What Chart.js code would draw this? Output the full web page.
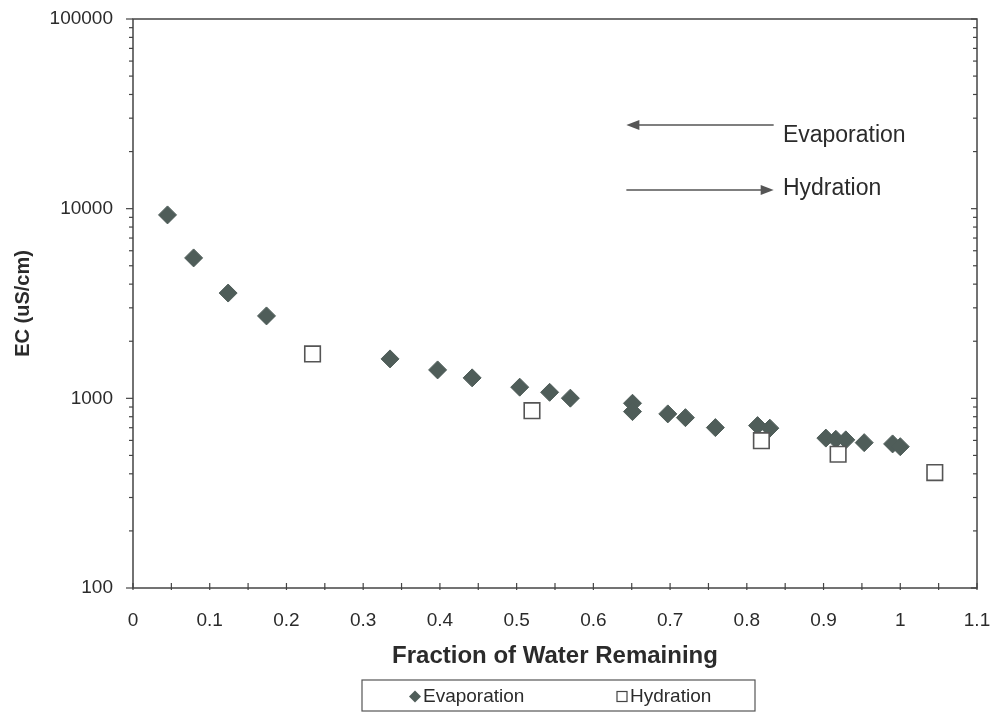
<!DOCTYPE html>
<html>
<head>
<meta charset="utf-8">
<title>EC vs Fraction of Water Remaining</title>
<script src="https://cdn.jsdelivr.net/npm/chart.js@4.4.1/dist/chart.umd.min.js"></script>
<style>
  html, body { margin: 0; padding: 0; background: #fff; }
  #wrap { width: 993px; height: 712px; }
</style>
</head>
<body>
<div id="wrap"><canvas id="ecChart" width="993" height="712"></canvas></div>
<script>
'use strict';

// evaporation series: fraction of water remaining vs EC (uS/cm)
const evapX  = [0.045, 0.079, 0.124, 0.174, 0.335, 0.397, 0.442, 0.504, 0.543, 0.570, 0.651, 0.651,
                0.697, 0.720, 0.759, 0.814, 0.830, 0.903, 0.916, 0.929, 0.953, 0.990, 1.000];
const evapEC = [9270, 5500, 3590, 2720, 1614, 1412, 1282, 1145, 1076, 1002, 942, 851,
                828, 791, 701, 718, 696, 617, 608, 604, 584, 575, 556];

// hydration series
const hydX  = [0.234, 0.520, 0.819, 0.919, 1.045];
const hydEC = [1714, 861, 598, 507, 406];

// axis ticks
const xTickValues = [0, 0.05, 0.1, 0.15, 0.2, 0.25, 0.3, 0.35, 0.4, 0.45, 0.5, 0.55,
                     0.6, 0.65, 0.7, 0.75, 0.8, 0.85, 0.9, 0.95, 1, 1.05, 1.1];
const xTickLabels = ['0', '0.1', '0.2', '0.3', '0.4', '0.5', '0.6', '0.7', '0.8', '0.9', '1', '1.1'];
const yTickLabels = ['100', '1000', '10000', '100000'];

const seriesNames = ['Evaporation', 'Hydration'];

// direction arrows drawn inside the plot (data coordinates)
const arrowNotes = [
  { text: 'Evaporation', from: 0.835, to: 0.643, y: 27600, textY: 24200 },
  { text: 'Hydration',   from: 0.643, to: 0.835, y: 12550, textY: 12800 }
];
const noteTextX = 0.847;

const FONT = '"Liberation Sans", Arial, Helvetica, sans-serif';
const INK = '#2b2b2b';
const AXIS = '#444';
const DIAMOND = '#4f5d59';

Chart.defaults.font.family = FONT;
Chart.defaults.color = INK;

const toPoints = (xs, ys) => xs.map((x, i) => ({ x: x, y: ys[i] }));

// log ticks 1..9 per decade between 100 and 100000
const buildLogTicks = function (scale) {
  const ticks = [];
  for (let p = 2; p <= 5; p++) {
    for (let k = 1; k <= 9; k++) {
      const v = k * Math.pow(10, p);
      if (v > 100000) break;
      ticks.push({ value: v });
    }
  }
  scale.ticks = ticks;
};

// keep edge labels from pushing the plot area inwards
const noEdgePadding = function (scale) {
  scale.paddingTop = 0;
  scale.paddingBottom = 0;
  scale.paddingLeft = 0;
  scale.paddingRight = 0;
};

const strokeLine = function (ctx, x1, y1, x2, y2) {
  ctx.beginPath();
  ctx.moveTo(x1, y1);
  ctx.lineTo(x2, y2);
  ctx.stroke();
};

/**
 * frame, tick marks, arrows and boxed legend
 */

const frameAndNotes = {
  id: 'frameAndNotes',
  afterDraw(chart) {
    const ctx = chart.ctx;
    const area = chart.chartArea;
    const xs = chart.scales.x;
    const ys = chart.scales.y;

    ctx.save();
    ctx.strokeStyle = AXIS;
    ctx.lineWidth = 1.5;
    ctx.strokeRect(area.left, area.top, area.right - area.left, area.bottom - area.top);

    ctx.lineWidth = 1.2;
    ys.ticks.forEach(function (t) {
      const py = ys.getPixelForValue(t.value);
      const major = yTickLabels.includes(String(t.value));
      strokeLine(ctx, area.left - (major ? 7 : 4), py, area.left, py);
      strokeLine(ctx, area.right - (major ? 6 : 4), py, area.right, py);
    });
    xs.ticks.forEach(function (t) {
      const px = xs.getPixelForValue(t.value);
      strokeLine(ctx, px, area.bottom - 5, px, area.bottom + 2);
    });

    // arrows
    ctx.strokeStyle = '#555';
    ctx.fillStyle = '#555';
    ctx.lineWidth = 1.5;
    arrowNotes.forEach(function (n) {
      const x1 = xs.getPixelForValue(n.from);
      const x2 = xs.getPixelForValue(n.to);
      const py = ys.getPixelForValue(n.y);
      const dir = x2 > x1 ? 1 : -1;
      strokeLine(ctx, x1, py, x2 - dir * 10, py);
      ctx.beginPath();
      ctx.moveTo(x2, py);
      ctx.lineTo(x2 - dir * 13, py - 5);
      ctx.lineTo(x2 - dir * 13, py + 5);
      ctx.closePath();
      ctx.fill();

      ctx.fillStyle = INK;
      ctx.font = '23px ' + FONT;
      ctx.textAlign = 'left';
      ctx.textBaseline = 'middle';
      ctx.fillText(n.text, xs.getPixelForValue(noteTextX), ys.getPixelForValue(n.textY));
      ctx.fillStyle = '#555';
    });

    // legend box under the axis title
    const mid = (area.left + area.right) / 2;
    const boxL = mid - 193, boxW = 393, boxT = chart.height - 32, boxH = 31;
    const cy = boxT + boxH / 2 + 1;
    ctx.strokeStyle = '#555';
    ctx.lineWidth = 1.2;
    ctx.strokeRect(boxL, boxT, boxW, boxH);

    ctx.fillStyle = DIAMOND;
    ctx.beginPath();
    ctx.moveTo(boxL + 53, cy - 6);
    ctx.lineTo(boxL + 59, cy);
    ctx.lineTo(boxL + 53, cy + 6);
    ctx.lineTo(boxL + 47, cy);
    ctx.closePath();
    ctx.fill();

    ctx.fillStyle = '#fff';
    ctx.strokeStyle = '#444';
    ctx.fillRect(boxL + 255, cy - 5, 10, 10);
    ctx.strokeRect(boxL + 255, cy - 5, 10, 10);

    ctx.fillStyle = INK;
    ctx.font = '19px ' + FONT;
    ctx.textAlign = 'left';
    ctx.textBaseline = 'middle';
    ctx.fillText(seriesNames[0], boxL + 61, cy);
    ctx.fillText(seriesNames[1], boxL + 268, cy);
    ctx.restore();
  }
};

/**
 * chart
 */

document.addEventListener('DOMContentLoaded', function () {
  const ctx = document.getElementById('ecChart').getContext('2d');

  new Chart(ctx, {
    type: 'scatter',
    data: {
      datasets: [{
        label: seriesNames[0],
        data: toPoints(evapX, evapEC),
        pointStyle: 'rectRot',
        pointRadius: 9,
        pointHoverRadius: 9,
        backgroundColor: DIAMOND,
        borderColor: DIAMOND,
        borderWidth: 1,
        order: 2
      }, {
        label: seriesNames[1],
        data: toPoints(hydX, hydEC),
        pointStyle: 'rect',
        pointRadius: 11,
        pointHoverRadius: 11,
        backgroundColor: '#fff',
        borderColor: '#555',
        borderWidth: 1.6,
        order: 1
      }]
    },
    options: {
      responsive: false,
      animation: false,
      devicePixelRatio: 1,
      layout: { padding: { left: 0, top: 19, right: 16, bottom: 41 } },
      plugins: {
        legend: { display: false },
        tooltip: { enabled: false }
      },
      scales: {
        x: {
          type: 'linear',
          min: 0,
          max: 1.1,
          afterBuildTicks: function (scale) {
            scale.ticks = xTickValues.map(v => ({ value: v }));
          },
          afterFit: function (scale) {
            scale.height = 83;
            noEdgePadding(scale);
          },
          ticks: {
            autoSkip: false,
            maxRotation: 0,
            padding: 21,
            font: { size: 19 },
            color: INK,
            callback: function (v) {
              return xTickLabels.includes(String(v)) ? String(v) : '';
            }
          },
          grid: { display: false, drawTicks: false },
          border: { display: false },
          title: {
            display: true,
            text: 'Fraction of Water Remaining',
            font: { size: 24, weight: 'bold' },
            color: INK,
            padding: { top: 0, bottom: 0 }
          }
        },
        y: {
          type: 'logarithmic',
          min: 100,
          max: 100000,
          afterBuildTicks: buildLogTicks,
          afterFit: function (scale) {
            scale.width = 133;
            noEdgePadding(scale);
          },
          ticks: {
            autoSkip: false,
            padding: 20,
            font: { size: 19 },
            color: INK,
            callback: function (v) {
              return yTickLabels.includes(String(v)) ? String(v) : '';
            }
          },
          grid: { display: false, drawTicks: false },
          border: { display: false },
          title: {
            display: true,
            text: 'EC (uS/cm)',
            font: { size: 20, weight: 'bold' },
            color: INK,
            padding: { top: 11, bottom: 0 }
          }
        }
      }
    },
    plugins: [frameAndNotes]
  });
});
</script>
</body>
</html>
